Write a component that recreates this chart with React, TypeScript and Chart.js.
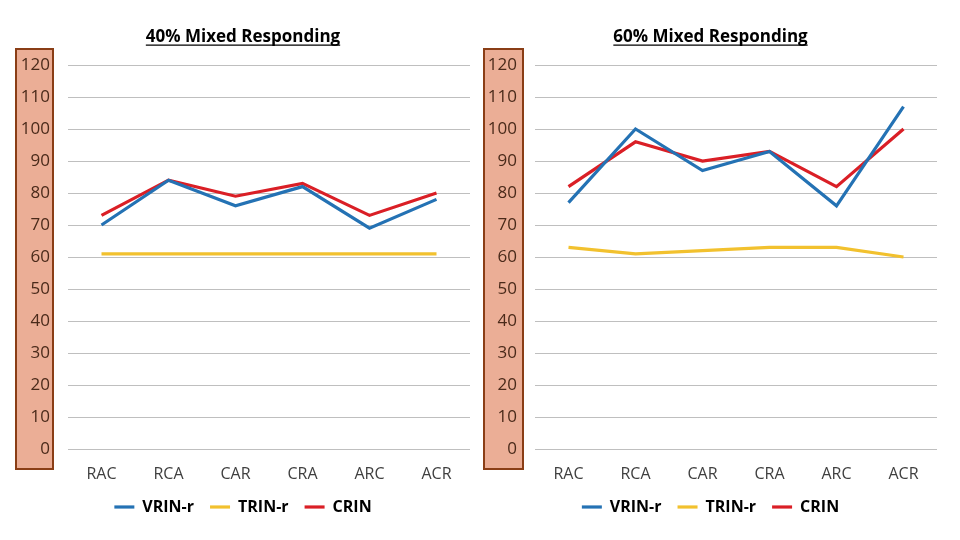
import React, { useEffect, useRef } from "react";
import { Chart, registerables } from "chart.js";

Chart.register(...registerables);

const categories = ["RAC", "RCA", "CAR", "CRA", "ARC", "ACR"];
const seriesNames = ["VRIN-r", "TRIN-r", "CRIN"];
const yTicks = [0, 10, 20, 30, 40, 50, 60, 70, 80, 90, 100, 110, 120];

const left40Vrin = [70, 84, 76, 82, 69, 78];
const left40Trin = [61, 61, 61, 61, 61, 61];
const left40Crin = [73, 84, 79, 83, 73, 80];

const right60Vrin = [77, 100, 87, 93, 76, 107];
const right60Trin = [63, 61, 62, 63, 63, 60];
const right60Crin = [82, 96, 90, 93, 82, 100];

const titles = ["40% Mixed Responding", "60% Mixed Responding"];

const COLORS = ["#2472B4", "#F2C12E", "#DA1F26"];
const FONT = '"Open Sans", "DejaVu Sans", sans-serif';
const TITLE_SIZE = 17;
const TITLE_PAD_TOP = 26.5;
const X_AXIS_HEIGHT = 34;
const LEGEND_HEIGHT = 57;

const axisBoxPlugin = {
  id: "axisBox",
  beforeLayout(chart: any) {
    const lg = chart.legend;
    if (lg && !lg._fixedFit) {
      const orig = lg.fit.bind(lg);
      lg.fit = function () {
        orig();
        this.height = LEGEND_HEIGHT;
      };
      lg._fixedFit = true;
    }
  },
  beforeDraw(chart: any, _args: any, opts: any) {
    const { ctx, chartArea } = chart;
    const x1 = chartArea.left - opts.leftOffset;
    const x2 = chartArea.left - opts.rightOffset;
    const y1 = chartArea.top - 16;
    const y2 = chartArea.bottom + 20;
    ctx.save();
    ctx.fillStyle = "#EBAE96";
    ctx.fillRect(x1, y1, x2 - x1, y2 - y1);
    ctx.strokeStyle = "#8A3E16";
    ctx.lineWidth = 2;
    ctx.strokeRect(x1, y1, x2 - x1, y2 - y1);
    ctx.restore();
  },
};

const underlinePlugin = {
  id: "titleUnderline",
  afterDraw(chart: any) {
    const tb = chart.titleBlock;
    if (!tb) return;
    const text = chart.options.plugins.title.text;
    const { ctx } = chart;
    ctx.save();
    ctx.font = `bold ${TITLE_SIZE}px ${FONT}`;
    const w = ctx.measureText(text).width;
    const cx = (tb.left + tb.right) / 2;
    const y = tb.top + TITLE_PAD_TOP + (TITLE_SIZE * 1.2) / 2 + 8.5;
    ctx.strokeStyle = "#000";
    ctx.lineWidth = 1.3;
    ctx.beginPath();
    ctx.moveTo(cx - w / 2, y);
    ctx.lineTo(cx + w / 2, y);
    ctx.stroke();
    ctx.restore();
  },
};

function Panel(props: {
  title: string;
  data: number[][];
  padLeft: number;
  padRight: number;
  boxLeft: number;
  boxRight: number;
  yWidth: number;
}) {
  const ref = useRef<HTMLCanvasElement | null>(null);
  useEffect(() => {
    if (!ref.current) return;
    const chart = new Chart(ref.current, {
      type: "line",
      data: {
        labels: categories,
        datasets: seriesNames.map((name, i) => ({
          label: name,
          data: props.data[i],
          borderColor: COLORS[i],
          backgroundColor: COLORS[i],
          borderWidth: 3.2,
          pointRadius: 0,
          tension: 0,
        })),
      },
      options: {
        animation: false,
        responsive: true,
        maintainAspectRatio: false,
        layout: {
          padding: { left: props.padLeft, right: props.padRight, top: 0, bottom: 0 },
        },
        plugins: {
          title: {
            display: true,
            text: props.title,
            color: "#000",
            font: { family: FONT, size: TITLE_SIZE, weight: "bold" },
            padding: { top: TITLE_PAD_TOP, bottom: 18.1 },
          },
          legend: {
            display: true,
            position: "bottom",
            labels: {
              usePointStyle: true,
              pointStyle: "line",
              pointStyleWidth: 20,
              padding: 16,
              color: "#000",
              font: { family: FONT, size: 16, weight: "bold" },
            },
          },
          tooltip: { enabled: false },
          axisBox: { leftOffset: props.boxLeft, rightOffset: props.boxRight },
        } as any,
        scales: {
          x: {
            type: "category",
            offset: true,
            afterFit(scale: any) {
              scale.height = X_AXIS_HEIGHT;
            },
            grid: { display: false, drawTicks: false, tickLength: 0 },
            border: { display: false },
            ticks: {
              padding: 16,
              color: "#404040",
              font: { family: FONT, size: 16 },
              maxRotation: 0,
            },
          },
          y: {
            min: yTicks[0],
            max: yTicks[yTicks.length - 1],
            afterFit(scale: any) {
              scale.width = props.yWidth;
            },
            afterBuildTicks(scale: any) {
              scale.ticks = yTicks.map((v) => ({ value: v }));
            },
            grid: { color: "#BFBFBF", lineWidth: 1, drawTicks: false, tickLength: 0 },
            border: { display: false },
            ticks: {
              padding: 18,
              color: "#4A2A1A",
              font: { family: FONT, size: 17 },
            },
          },
        },
      },
      plugins: [axisBoxPlugin, underlinePlugin],
    });
    return () => chart.destroy();
  }, []);
  return <canvas ref={ref} />;
}

export default function App() {
  return (
    <div
      style={{
        position: "fixed",
        left: 0,
        top: 0,
        width: 960,
        height: 540,
        background: "#fff",
      }}
    >
      <div style={{ position: "absolute", left: 0, top: 0, width: 480, height: 540 }}>
        <Panel
          title={titles[0]}
          data={[left40Vrin, left40Trin, left40Crin]}
          padLeft={16}
          padRight={10}
          yWidth={52}
          boxLeft={52}
          boxRight={15}
        />
      </div>
      <div style={{ position: "absolute", left: 480, top: 0, width: 480, height: 540 }}>
        <Panel
          title={titles[1]}
          data={[right60Vrin, right60Trin, right60Crin]}
          padLeft={4}
          padRight={23}
          yWidth={51}
          boxLeft={51}
          boxRight={12}
        />
      </div>
    </div>
  );
}
